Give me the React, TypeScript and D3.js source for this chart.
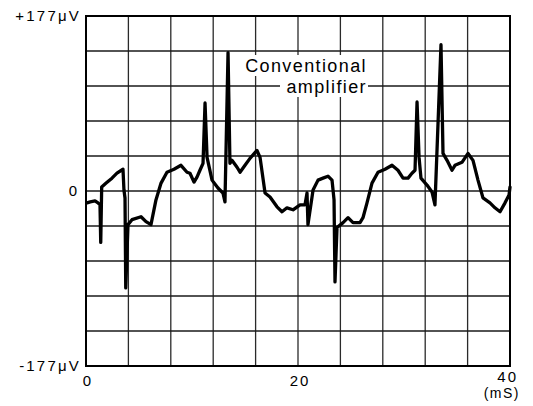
import * as d3 from 'd3';

// trace: time in ms, amplitude in μV
const timeMs = [0.1, 0.4, 0.85, 1.13, 1.32, 1.39, 1.48, 1.9, 2.45, 2.92, 3.49, 3.58, 3.68, 3.75, 3.96, 4.34, 5.19, 5.66, 6.13, 6.6, 7.08, 7.64, 8.3, 8.96, 9.53, 9.81, 10.19, 10.47, 10.75, 11.04, 11.23, 11.42, 11.89, 12.45, 12.92, 13.11, 13.4, 13.58, 13.77, 14.25, 14.53, 15.0, 15.47, 16.13, 16.42, 16.89, 17.36, 18.02, 18.49, 18.96, 19.53, 20.19, 20.66, 20.85, 20.94, 21.42, 21.89, 22.36, 22.83, 23.21, 23.4, 23.49, 23.68, 24.25, 24.72, 25.19, 25.85, 26.13, 26.51, 26.98, 27.55, 28.21, 28.87, 29.43, 29.91, 30.38, 30.75, 31.04, 31.23, 31.42, 31.6, 32.17, 32.64, 32.92, 33.49, 33.68, 34.06, 34.53, 34.81, 35.47, 36.04, 36.51, 36.98, 37.45, 38.11, 38.58, 39.06, 39.53, 39.91, 40];
const voltageUV = [-12, -11, -10, -12, -14, -52, 4, 8, 13, 18, 22, 1, -7, -98, -34, -29, -26, -31, -34, -9, 8, 19, 22, 26, 19, 18, 9, 14, 21, 28, 89, 34, 11, 3, -2, -11, 140, 28, 31, 24, 19, 26, 33, 41, 34, -2, -6, -16, -21, -17, -19, -14, -14, -2, -34, 1, 11, 13, 15, 11, -9, -92, -37, -32, -27, -32, -32, -27, -12, 8, 19, 22, 26, 21, 13, 13, 18, 21, 90, 34, 13, 6, -1, -14, 148, 38, 31, 21, 26, 29, 38, 31, 11, -7, -12, -17, -21, -12, -4, 4];

const xTickValues = [0, 20, 40];
const yTickValues = [177, 0, -177];
const yTickLabels = ['+177μV', '0', '-177μV'];
const xUnit = '(mS)';
const annotation = ['Conventional', 'amplifier'];

const W = 533;
const H = 406;
const FONT = '"Liberation Sans", Arial, Helvetica, sans-serif';

export default function App() {
  const left = 86, right = 510, top = 16, bottom = 366;
  const x = d3.scaleLinear().domain([0, 40]).range([left, right]);
  const y = d3.scaleLinear().domain([-177, 177]).range([bottom, top]);

  const vGrid = d3.range(4, 40, 4);
  const hGrid = d3.range(1, 10).map((i) => -177 + i * 35.4);

  const pts: [number, number][] = timeMs.map((t, i) => [t, voltageUV[i]]);
  const line = d3.line<[number, number]>()
    .x((d) => x(d[0]))
    .y((d) => y(d[1]));

  return (
    <svg width={W} height={H} style={{ position: 'absolute', left: 0, top: 0, background: '#fff' }} fontFamily={FONT}>
      <rect width={W} height={H} fill="#fff" />

      {/* grid */}
      {vGrid.map((t) => (
        <line key={'v' + t} x1={x(t)} x2={x(t)} y1={top} y2={bottom} stroke="#2a2a2a" strokeWidth={1.3} />
      ))}
      {hGrid.map((v, i) => (
        <line key={'h' + i} x1={left} x2={right} y1={y(v)} y2={y(v)} stroke="#1a1a1a" strokeWidth={1.6} />
      ))}
      <rect x={left} y={top} width={right - left} height={bottom - top} fill="none" stroke="#000" strokeWidth={2} />

      {/* annotation with white backing over the grid */}
      <rect x={238} y={55} width={130} height={21} fill="#fff" />
      <rect x={280} y={76} width={88} height={21} fill="#fff" />
      <text x={367} y={72} textAnchor="end" fontSize={18} letterSpacing={1.4} fill="#000">{annotation[0]}</text>
      <text x={367} y={93} textAnchor="end" fontSize={18} letterSpacing={1.4} fill="#000">{annotation[1]}</text>

      {/* trace */}
      <path d={line(pts) || ''} fill="none" stroke="#000" strokeWidth={3.3} strokeLinejoin="round" strokeLinecap="round" />

      {/* y labels */}
      {yTickValues.map((v, i) => (
        <text key={'yl' + i} x={i === 1 ? 77 : 81} y={y(v) + 5} textAnchor="end" fontSize={15} letterSpacing={i === 1 ? 0 : 2.2} fill="#000">
          {yTickLabels[i]}
        </text>
      ))}

      {/* x labels */}
      {xTickValues.map((t, i) => (
        <text key={'xl' + t} x={i === 2 ? x(t) + 8 : x(t) + 2} y={i === 2 ? 382 : 386} textAnchor={i === 2 ? 'end' : 'middle'} fontSize={15} letterSpacing={2} fill="#000">
          {t}
        </text>
      ))}
      <text x={520} y={398} textAnchor="end" fontSize={14} letterSpacing={1.5} fill="#000">{xUnit}</text>
    </svg>
  );
}
